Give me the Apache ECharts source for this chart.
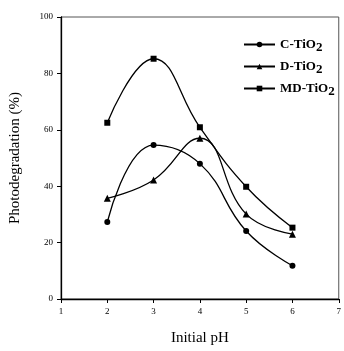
<!DOCTYPE html>
<html><head><meta charset="utf-8">
<script src="https://cdn.jsdelivr.net/npm/echarts@6/dist/echarts.min.js"></script>
<style>html,body{margin:0;padding:0;background:#fff;overflow:hidden}#c{width:344px;height:351px}</style>
</head><body><div id="c"></div>
<script>
const pH = [2, 3, 4, 5, 6];
const cTiO2 = [27.3, 54.6, 48.0, 24.1, 11.8];
const dTiO2 = [35.7, 42.2, 57.0, 30.1, 23.0];
const mdTiO2 = [62.5, 85.2, 60.9, 39.8, 25.3];
const seriesNames = ['C-TiO2', 'D-TiO2', 'MD-TiO2'];
const yTicks = [0, 20, 40, 60, 80, 100];

const font = 'Liberation Serif';
function mk(name, vals, symbol, size) {
  return {
    name: name, type: 'line', smooth: 0.45,
    data: pH.map((x, i) => [x, vals[i]]),
    symbol: symbol, symbolSize: size, showSymbol: true,
    lineStyle: {color: '#000', width: 1.3},
    itemStyle: {color: '#000'}
  };
}
const chart = echarts.init(document.getElementById('c'));
chart.setOption({
  animation: false,
  backgroundColor: '#fff',
  grid: {left: 61, right: 1, top: 17, bottom: 52, show: true, borderColor: '#555', borderWidth: 1},
  legend: {
    orient: 'vertical', left: 238, top: 33, itemGap: 6, itemWidth: 31, itemHeight: 7,
    data: seriesNames,
    formatter: n => '{a|' + n.replace('2', '') + '}{s|2}',
    textStyle: {
      rich: {
        a: {fontFamily: font, fontWeight: 'bold', fontSize: 13, color: '#000'},
        s: {fontFamily: font, fontWeight: 'bold', fontSize: 13, color: '#000', padding: [6, 0, 0, 0]}
      }
    }
  },
  xAxis: {
    type: 'value', min: 1, max: 7, interval: 1,
    name: 'Initial pH', nameLocation: 'middle', nameGap: 32,
    nameTextStyle: {fontFamily: font, fontSize: 15, color: '#000'},
    axisLine: {lineStyle: {color: '#000', width: 1.3}},
    axisTick: {lineStyle: {color: '#000'}, length: 4},
    axisLabel: {fontFamily: font, fontSize: 9, color: '#000', margin: 8},
    splitLine: {show: false}
  },
  yAxis: {
    type: 'value', min: 0, max: 100, interval: 20,
    name: 'Photodegradation (%)', nameLocation: 'middle', nameGap: 38,
    nameTextStyle: {fontFamily: font, fontSize: 15, color: '#000'},
    axisLine: {show: true, lineStyle: {color: '#000', width: 1.3}},
    axisTick: {show: true, lineStyle: {color: '#000'}, length: 4},
    axisLabel: {fontFamily: font, fontSize: 9, color: '#000', margin: 8,
      formatter: v => yTicks.includes(v) ? String(v) : ''},
    splitLine: {show: false}
  },
  series: [
    mk(seriesNames[0], cTiO2, 'circle', 6),
    mk(seriesNames[1], dTiO2, 'triangle', 7),
    mk(seriesNames[2], mdTiO2, 'rect', 6)
  ]
});
</script></body></html>
